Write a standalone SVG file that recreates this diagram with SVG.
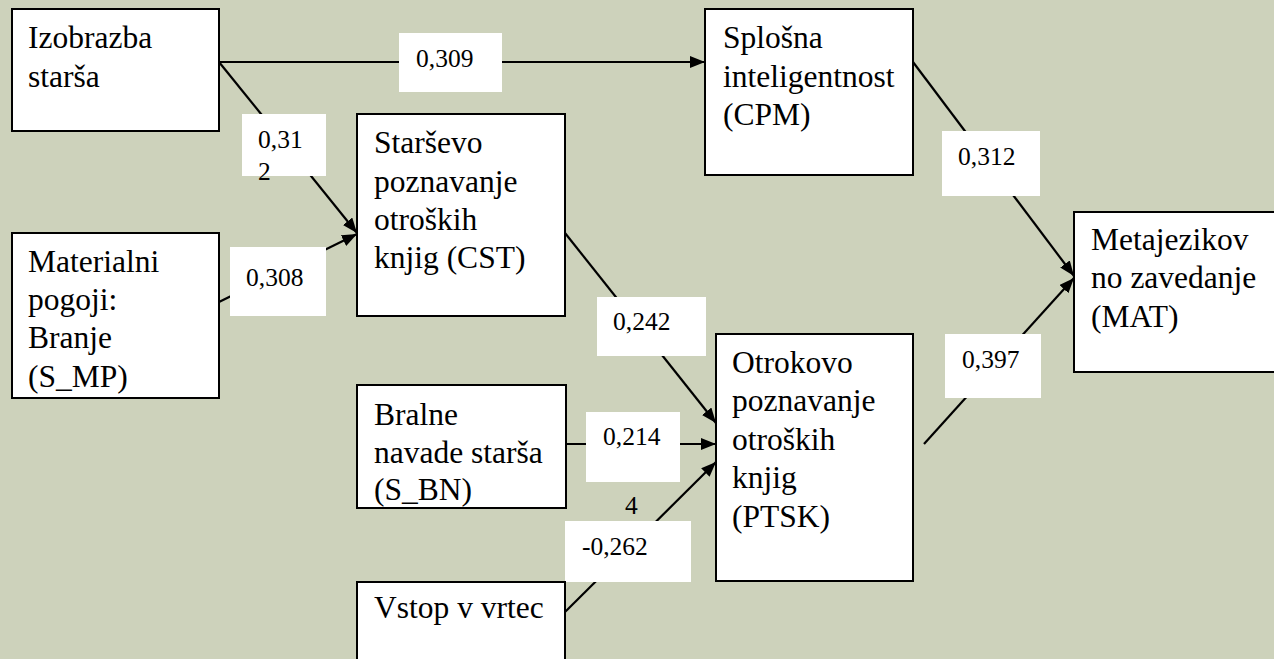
<svg xmlns="http://www.w3.org/2000/svg" width="1274" height="659" viewBox="0 0 1274 659">
<defs>
<marker id="ah" markerUnits="userSpaceOnUse" markerWidth="16" markerHeight="14" refX="15" refY="6" orient="auto">
<path d="M0,0 L15,6 L0,12 Z" fill="#000"/>
</marker>
</defs>
<rect x="0" y="0" width="1274" height="659" fill="#CDD2BB"/>
<g id="connectors" stroke="#000" stroke-width="2.2" fill="none" marker-end="url(#ah)">
<line x1="219" y1="62" x2="705" y2="62"/>
<line x1="219" y1="62" x2="357" y2="233"/>
<line x1="219" y1="302" x2="357" y2="234"/>
<line x1="565" y1="233" x2="716" y2="423"/>
<line x1="566" y1="444" x2="716" y2="444"/>
<line x1="565" y1="612" x2="716" y2="462"/>
<line x1="913" y1="62" x2="1074" y2="276"/>
<line x1="924" y1="444" x2="1074" y2="278"/>
</g>
<g id="connector-labels">
<rect fill="#fff" x="399" y="33" width="103" height="59"/>
<text font-family="Liberation Serif" font-size="25.5" x="416" y="67">0,309</text>
<rect fill="#fff" x="242" y="114" width="84" height="62"/>
<text font-family="Liberation Serif" font-size="25.5" x="258" y="148">0,31</text>
<text font-family="Liberation Serif" font-size="25.5" x="258" y="180">2</text>
<rect fill="#fff" x="230" y="247" width="96" height="69"/>
<text font-family="Liberation Serif" font-size="25.5" x="246" y="286">0,308</text>
<rect fill="#fff" x="942" y="131" width="98" height="65"/>
<text font-family="Liberation Serif" font-size="25.5" x="958" y="165">0,312</text>
<rect fill="#fff" x="945" y="334" width="96" height="64"/>
<text font-family="Liberation Serif" font-size="25.5" x="962" y="368">0,397</text>
<rect fill="#fff" x="597" y="297" width="109" height="59"/>
<text font-family="Liberation Serif" font-size="25.5" x="613" y="330">0,242</text>
<rect fill="#fff" x="586" y="412" width="94" height="70"/>
<text font-family="Liberation Serif" font-size="25.5" x="603" y="445">0,214</text>
<text font-family="Liberation Serif" font-size="25.5" x="625" y="514">4</text>
<rect fill="#fff" x="565" y="521" width="126" height="61"/>
<text font-family="Liberation Serif" font-size="25.5" x="582" y="555">-0,262</text>
</g>
<g id="node-izobrazba">
<rect fill="#fff" stroke="#000" stroke-width="2" x="12" y="9" width="207" height="122"/>
<text font-family="Liberation Serif" font-size="31.5" x="28" y="48">Izobrazba</text>
<text font-family="Liberation Serif" font-size="31.5" x="28" y="87">starša</text>
</g>
<g id="node-materialni">
<rect fill="#fff" stroke="#000" stroke-width="2" x="12" y="233" width="207" height="165"/>
<text font-family="Liberation Serif" font-size="31.5" x="28" y="272">Materialni</text>
<text font-family="Liberation Serif" font-size="31.5" x="28" y="310">pogoji:</text>
<text font-family="Liberation Serif" font-size="31.5" x="28" y="348">Branje</text>
<text font-family="Liberation Serif" font-size="31.5" x="28" y="387">(S_MP)</text>
</g>
<g id="node-cst">
<rect fill="#fff" stroke="#000" stroke-width="2" x="357" y="114" width="208" height="202"/>
<text font-family="Liberation Serif" font-size="31.5" x="374" y="153">Starševo</text>
<text font-family="Liberation Serif" font-size="31.5" x="374" y="192">poznavanje</text>
<text font-family="Liberation Serif" font-size="31.5" x="374" y="230">otroških</text>
<text font-family="Liberation Serif" font-size="31.5" x="374" y="268">knjig (CST)</text>
</g>
<g id="node-cpm">
<rect fill="#fff" stroke="#000" stroke-width="2" x="705" y="9" width="208" height="166"/>
<text font-family="Liberation Serif" font-size="31.5" x="723" y="48">Splošna</text>
<text font-family="Liberation Serif" font-size="31.5" x="723" y="87">inteligentnost</text>
<text font-family="Liberation Serif" font-size="31.5" x="723" y="125">(CPM)</text>
</g>
<g id="node-sbn">
<rect fill="#fff" stroke="#000" stroke-width="2" x="357" y="385" width="209" height="123"/>
<text font-family="Liberation Serif" font-size="31.5" x="374" y="425">Bralne</text>
<text font-family="Liberation Serif" font-size="31.5" x="374" y="463">navade starša</text>
<text font-family="Liberation Serif" font-size="31.5" x="374" y="500">(S_BN)</text>
</g>
<g id="node-vrtec">
<rect fill="#fff" stroke="#000" stroke-width="2" x="357" y="582" width="208" height="100"/>
<text font-family="Liberation Serif" font-size="31.5" x="374" y="618">Vstop v vrtec</text>
</g>
<g id="node-ptsk">
<rect fill="#fff" stroke="#000" stroke-width="2" x="716" y="334" width="197" height="247"/>
<text font-family="Liberation Serif" font-size="31.5" x="732" y="373">Otrokovo</text>
<text font-family="Liberation Serif" font-size="31.5" x="732" y="411">poznavanje</text>
<text font-family="Liberation Serif" font-size="31.5" x="732" y="450">otroških</text>
<text font-family="Liberation Serif" font-size="31.5" x="732" y="488">knjig</text>
<text font-family="Liberation Serif" font-size="31.5" x="732" y="527">(PTSK)</text>
</g>
<g id="node-mat">
<rect fill="#fff" stroke="#000" stroke-width="2" x="1074" y="212" width="215" height="160"/>
<text font-family="Liberation Serif" font-size="31.5" x="1091" y="250">Metajezikov</text>
<text font-family="Liberation Serif" font-size="31.5" x="1091" y="288">no zavedanje</text>
<text font-family="Liberation Serif" font-size="31.5" x="1091" y="327">(MAT)</text>
</g>
</svg>
